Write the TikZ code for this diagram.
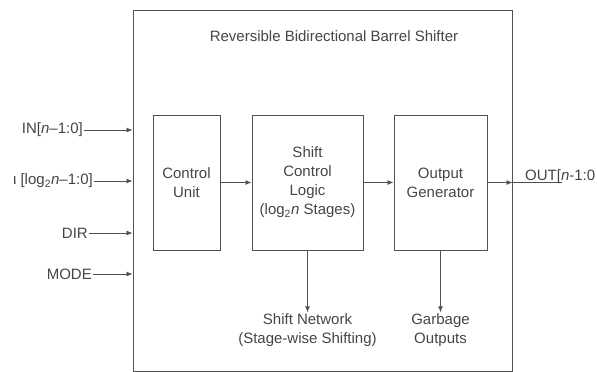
\documentclass[tikz,border=0pt]{standalone}
\usepackage{fontspec}
\setmainfont{Liberation Sans}
\usetikzlibrary{arrows.meta}
\definecolor{txt}{HTML}{454545}
\definecolor{ln}{HTML}{505050}
\begin{document}
\begin{tikzpicture}[x=1pt,y=-1pt,
  lbl/.style={font=\fontsize{15}{19}\selectfont, text=txt, inner sep=1pt, align=center},
  blk/.style={lbl, draw=ln, line width=1pt, minimum height=135pt},
  arr/.style={draw=ln, line width=0.9pt, -{Latex[length=6pt,width=5pt]}},
  wire/.style={draw=ln, line width=0.9pt}]
\useasboundingbox (0,0) rectangle (597,372);
% enclosing module
\node[draw=ln, line width=1pt, minimum width=379pt, minimum height=361pt, inner sep=0pt]
  (outer) at (322.5,190.5) {};
\node[lbl] (title) at (334,36) {Reversible Bidirectional Barrel Shifter};
% internal blocks
\node[blk, minimum width=67pt]  (cu)  at (186.5,182.5) {Control\\Unit};
\node[blk, minimum width=111pt] (scl) at (307.5,182.5) {Shift\\Control\\Logic\\(log\textsubscript{2}\textit{n} Stages)};
\node[blk, minimum width=93pt]  (og)  at (440.5,182.5) {Output\\Generator};
\draw[arr] (cu) -- (scl);
\draw[arr] (scl) -- (og);
% inputs
\node[lbl, anchor=east] (in)   at (84,130)  {IN[\textit{n}–1:0]};
\node[lbl, anchor=east] (amt)  at (94,181)  {ι [log\textsubscript{2}\textit{n}–1:0]};
\node[lbl, anchor=east] (dir)  at (89,233)  {DIR};
\node[lbl, anchor=east] (mode) at (93,274)  {MODE};
\foreach \s in {in,amt,dir,mode}
  \draw[arr] (\s.east) -- (\s.east -| outer.west);
% output
\draw[arr] (og.east) -- (og.east -| outer.east);
\coordinate (outend) at (562,182.5);
\draw[wire] (og.east -| outer.east) -- (outend);
\node[lbl, anchor=base west] (out) at (524,180) {OUT[\textit{n}-1:0};
% outputs below the blocks
\node[lbl] (sn) at (307.5,330) {Shift Network\\(Stage-wise Shifting)};
\node[lbl] (gb) at (440.5,330) {Garbage\\Outputs};
\draw[arr] (scl.south) -- (sn.north);
\draw[arr] (og.south) -- (gb.north);
\end{tikzpicture}
\end{document}
